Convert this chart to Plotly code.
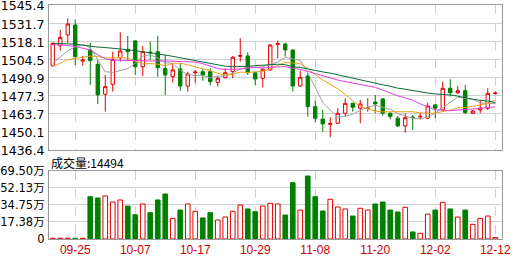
import plotly.graph_objects as go

dates = ["09-20","09-23","09-24","09-25","09-26","09-27","09-30","10-01","10-02","10-03",
         "10-04","10-07","10-08","10-09","10-10","10-11","10-14","10-15","10-16","10-17",
         "10-18","10-21","10-22","10-23","10-24","10-25","10-28","10-29","10-30","10-31",
         "11-01","11-04","11-05","11-06","11-07","11-08","11-11","11-12","11-13","11-14",
         "11-15","11-18","11-19","11-20","11-21","11-22","11-25","11-26","11-27","11-28",
         "11-29","12-02","12-03","12-04","12-05","12-06","12-09","12-10","12-11","12-12"]

open_ = [1499.6,1514.8,1522.9,1530.4,1503.2,1511.6,1500.8,1478.3,1485.8,1505.8,
         1512.1,1518.4,1499.0,1510.0,1510.3,1497.6,1491.5,1497.3,1484.5,1494.4,
         1495.3,1495.3,1487.3,1490.8,1495.3,1506.8,1507.1,1494.5,1490.3,1496.6,
         1515.8,1516.1,1511.6,1484.5,1492.0,1469.0,1459.7,1455.7,1456.5,1464.0,
         1471.5,1467.8,1467.6,1472.5,1474.8,1464.0,1460.3,1454.5,1461.2,1461.3,
         1460.3,1470.3,1466.5,1482.8,1479.5,1481.0,1464.0,1466.5,1467.8,1478.8]
high = [1517.2,1526.6,1535.4,1534.6,1507.1,1517.1,1504.1,1492.8,1510.3,1524.9,
        1522.1,1518.9,1514.6,1517.9,1522.3,1507.8,1500.8,1501.6,1495.3,1496.6,
        1497.3,1497.8,1492.0,1497.8,1507.1,1520.3,1509.8,1495.3,1497.8,1516.1,
        1518.6,1517.1,1511.8,1496.1,1494.1,1473.3,1466.5,1461.0,1467.8,1475.3,
        1472.0,1474.0,1475.3,1477.8,1475.3,1465.0,1462.0,1464.0,1462.7,1464.5,
        1472.0,1471.0,1487.8,1489.6,1484.5,1485.3,1466.5,1474.0,1482.8,1480.5]
low = [1499.6,1511.1,1516.6,1500.3,1499.8,1485.3,1471.0,1465.2,1480.3,1502.8,
       1504.1,1492.8,1492.0,1504.1,1491.5,1477.8,1487.0,1481.0,1480.3,1487.0,
       1488.5,1484.8,1484.0,1490.3,1490.3,1502.8,1492.8,1485.3,1483.5,1496.0,
       1505.3,1506.6,1480.3,1484.0,1461.5,1457.0,1450.2,1446.0,1456.0,1461.5,
       1465.2,1456.5,1465.2,1464.0,1462.2,1459.5,1453.5,1449.4,1451.5,1459.5,
       1460.0,1460.3,1466.5,1476.5,1478.5,1463.3,1463.5,1464.0,1466.5,1478.0]
close = [1516.6,1521.1,1531.1,1506.6,1504.0,1503.6,1477.8,1484.0,1504.6,1510.8,
         1510.3,1499.0,1510.3,1509.5,1498.3,1492.8,1496.6,1484.5,1493.6,1495.0,
         1492.8,1487.8,1490.3,1494.5,1506.1,1507.4,1494.5,1489.8,1497.1,1515.3,
         1516.4,1511.6,1484.5,1491.1,1469.0,1460.3,1456.0,1456.3,1464.0,1471.5,
         1468.5,1471.0,1468.0,1471.0,1464.0,1461.5,1454.5,1460.7,1460.8,1461.7,
         1469.5,1467.8,1482.8,1479.5,1481.0,1464.5,1465.7,1467.8,1479.0,1479.2]

ma5 = [1501.6,1506.0,1511.0,1514.0,1515.9,1513.3,1504.6,1495.2,1494.8,1496.2,
       1497.5,1501.7,1507.0,1508.0,1505.5,1502.0,1501.5,1496.3,1493.2,1492.5,
       1492.5,1490.7,1491.9,1492.1,1494.3,1497.2,1498.6,1498.5,1499.0,1500.8,
       1502.6,1506.0,1505.0,1503.8,1494.5,1483.3,1472.2,1466.5,1461.1,1461.6,
       1463.3,1466.3,1468.6,1470.0,1468.5,1467.1,1463.8,1462.3,1460.3,1459.8,
       1461.4,1464.1,1468.5,1472.3,1476.1,1475.1,1474.7,1471.7,1471.6,1471.2]
ma10 = [1499.6,1501.6,1504.3,1505.3,1506.1,1507.0,1506.6,1505.6,1505.6,1506.0,
        1505.4,1503.2,1501.1,1501.4,1500.9,1499.8,1501.6,1501.7,1500.6,1499.0,
        1497.3,1496.1,1494.1,1492.7,1493.4,1494.9,1494.7,1495.2,1495.6,1497.6,
        1499.9,1502.3,1501.8,1501.4,1497.7,1493.0,1489.1,1485.8,1482.5,1478.1,
        1473.3,1469.3,1467.6,1465.6,1465.1,1465.2,1465.1,1465.5,1465.2,1464.2,
        1464.3,1464.0,1465.4,1466.3,1468.0,1468.3,1469.4,1470.1,1472.0,1473.7]
ma20 = [1515.5,1515.3,1515.0,1514.3,1513.0,1511.5,1508.0,1505.0,1504.0,1503.8,
        1503.6,1503.4,1503.3,1503.2,1503.2,1503.3,1503.1,1503.0,1502.8,1502.5,
        1501.3,1499.6,1497.6,1497.0,1497.1,1497.3,1498.1,1498.4,1498.1,1498.3,
        1498.6,1499.2,1497.9,1497.0,1495.5,1493.9,1491.9,1490.5,1489.0,1487.8,
        1486.6,1485.8,1484.7,1483.5,1481.4,1479.1,1477.1,1475.6,1473.8,1471.1,
        1468.8,1466.6,1466.5,1465.9,1466.5,1466.7,1467.2,1467.8,1468.6,1468.9]
ma30 = [1516.6,1516.4,1516.2,1516.0,1515.2,1514.3,1513.8,1513.4,1513.0,1512.4,
        1511.8,1511.0,1510.3,1509.5,1508.6,1507.8,1506.8,1505.7,1504.6,1503.6,
        1502.6,1501.6,1500.4,1499.4,1499.0,1499.0,1499.3,1499.8,1500.3,1500.9,
        1500.9,1500.5,1499.0,1498.5,1497.3,1495.9,1495.1,1494.2,1492.9,1491.5,
        1490.2,1489.2,1487.8,1486.5,1485.4,1484.3,1482.9,1482.1,1481.1,1479.9,
        1479.2,1478.5,1478.2,1477.8,1476.9,1475.5,1474.5,1473.8,1473.2,1472.0]

volume = [8000,8000,8000,8000,8000,432000,419000,440000,378000,399000,
          337000,248000,358000,269000,399000,460000,211000,296000,358000,283000,
          215000,269000,194000,225000,283000,347000,307000,279000,337000,365000,
          358000,245000,575000,296000,644000,432000,286000,406000,327000,307000,
          235000,314000,296000,358000,378000,296000,276000,324000,72000,58000,
          255000,296000,375000,307000,225000,296000,150000,211000,235000,14494]

price_ticks = [1545.4,1531.7,1518.1,1504.5,1490.9,1477.3,1463.7,1450.1,1436.4]
vol_ticks = [0,173750,347500,521250,695000]
vol_tick_text = ["0","17.38万","34.75万","52.13万","69.50万"]
date_ticks = ["09-25","10-07","10-17","10-29","11-08","11-20","12-02","12-12"]

RED = "#e00000"
GREEN = "#008000"
up = [c >= o for o, c in zip(open_, close)]

fig = go.Figure()
fig.add_trace(go.Candlestick(
    x=dates, open=open_, high=high, low=low, close=close,
    increasing=dict(line=dict(color=RED, width=1), fillcolor="white"),
    decreasing=dict(line=dict(color=GREEN, width=1), fillcolor=GREEN),
    whiskerwidth=0, showlegend=False, xaxis="x", yaxis="y"))
for vals, col in [(ma5, "#a0a0a0"), (ma10, "#e8a317"), (ma20, "#e040e0"), (ma30, "#0a6b3a")]:
    fig.add_trace(go.Scatter(x=dates, y=vals, mode="lines",
                             line=dict(color=col, width=1), showlegend=False,
                             hoverinfo="skip", xaxis="x", yaxis="y"))
fig.add_trace(go.Bar(
    x=dates, y=volume, xaxis="x2", yaxis="y2", showlegend=False,
    marker=dict(color=["white" if u else GREEN for u in up],
                line=dict(color=[RED if u else GREEN for u in up], width=1))))

frame = "#9a9a9a"
grid = "#d0d0d0"
font = "Liberation Sans, Arial, sans-serif"
numfont = "DejaVu Sans, sans-serif"
common_x = dict(type="category", range=[-0.5, 59.9], tickvals=date_ticks,
                showgrid=True, gridcolor=grid, griddash="dash", gridwidth=1,
                showline=True, linecolor=frame, linewidth=1, mirror=True,
                zeroline=False, fixedrange=True, automargin=False, ticks="")
fig.update_layout(
    width=516, height=258, margin=dict(l=49, r=14, t=5, b=19),
    paper_bgcolor="white", plot_bgcolor="white", bargap=0.38, boxgap=0.36,
    xaxis=dict(**common_x, domain=[0, 1], anchor="y", showticklabels=False,
               rangeslider=dict(visible=False)),
    xaxis2=dict(**common_x, domain=[0, 1], anchor="y2", matches="x",
                ticklabeloverflow="allow",
                tickfont=dict(family=font, size=12, color="#cc0000")),
    yaxis=dict(domain=[0.3803, 1], range=[1436.4, 1545.4], tickvals=price_ticks,
               ticktext=[f"{v:.1f}" for v in price_ticks], automargin=False,
               ticklabeloverflow="allow", ticklabelstandoff=1, ticklabelshift=1,
               showgrid=True, gridcolor=grid, zeroline=False,
               showline=True, linecolor=frame, mirror=True, ticks="",
               tickfont=dict(family=numfont, size=12.5, color="black")),
    yaxis2=dict(domain=[0, 0.2906], range=[0, 695000], tickvals=vol_ticks,
                ticktext=vol_tick_text, showgrid=True, gridcolor=grid, zeroline=False,
                showline=True, linecolor=frame, mirror=True, ticks="", automargin=False,
                ticklabeloverflow="allow", ticklabelstandoff=1,
                tickfont=dict(family="DejaVu Sans, Noto Sans CJK SC, sans-serif",
                              size=11.5, color="black")),
    annotations=[dict(text=f"成交量:{volume[-1]}", xref="paper", yref="paper",
                      x=0.0, y=0.325, xanchor="left", yanchor="middle",
                      showarrow=False,
                      font=dict(family="Noto Sans CJK SC, sans-serif", size=12, color="black"))],
)
fig.write_html("out.html")
